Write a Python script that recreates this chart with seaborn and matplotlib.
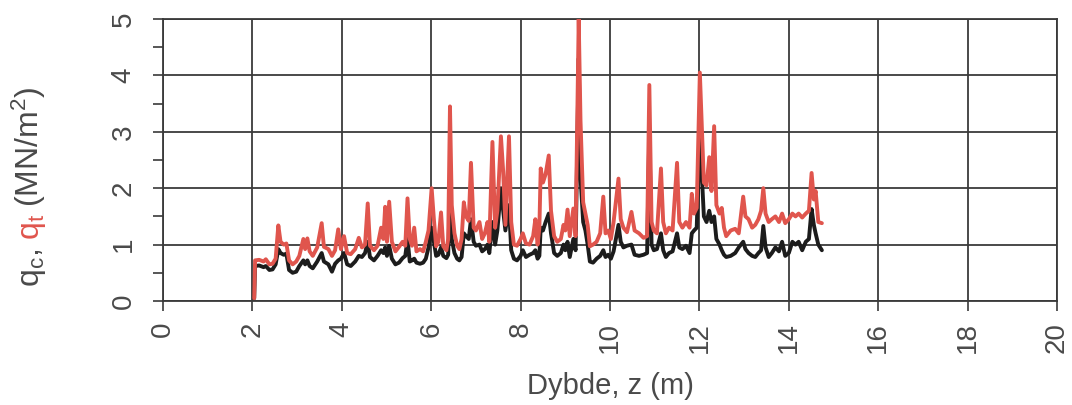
import matplotlib
matplotlib.use("Agg")
import matplotlib.pyplot as plt
import numpy as np
import pandas as pd
import seaborn as sns

# CPT sounding: depth (m), corrected cone resistance q_t and measured q_c (MN/m^2)
depth = [
    2.04, 2.06, 2.15, 2.25, 2.30, 2.38, 2.45, 2.52, 2.58, 2.63, 2.70, 2.76, 2.82, 2.90,
    2.98, 3.05, 3.14, 3.18, 3.23, 3.28, 3.35, 3.45, 3.55, 3.60, 3.70, 3.78, 3.85, 3.92,
    3.98, 4.05, 4.12, 4.20, 4.30, 4.38, 4.45, 4.52, 4.58, 4.63, 4.72, 4.80, 4.88, 4.93,
    4.97, 5.01, 5.06, 5.12, 5.20, 5.28, 5.36, 5.42, 5.47, 5.52, 5.57, 5.62, 5.67, 5.75,
    5.82, 5.88, 5.94, 6.01, 6.06, 6.11, 6.16, 6.22, 6.27, 6.34, 6.38, 6.42, 6.46, 6.52,
    6.58, 6.63, 6.68, 6.73, 6.78, 6.84, 6.89, 6.95, 7.00, 7.08, 7.14, 7.20, 7.26, 7.30,
    7.37, 7.43, 7.48, 7.56, 7.61, 7.66, 7.74, 7.79, 7.85, 7.92, 8.00, 8.05, 8.12, 8.20,
    8.28, 8.33, 8.38, 8.42, 8.45, 8.50, 8.56, 8.63, 8.68, 8.75, 8.82, 8.90, 8.96, 9.00,
    9.05, 9.10, 9.18, 9.23, 9.30, 9.34, 9.40, 9.45, 9.50, 9.55, 9.62, 9.70, 9.78, 9.85,
    9.90, 9.96, 10.02, 10.08, 10.19, 10.24, 10.30, 10.38, 10.48, 10.55, 10.65, 10.75,
    10.83, 10.88, 10.93, 10.98, 11.05, 11.14, 11.19, 11.25, 11.32, 11.40, 11.50, 11.55,
    11.62, 11.70, 11.78, 11.83, 11.88, 11.94, 12.01, 12.05, 12.10, 12.16, 12.22, 12.27,
    12.33, 12.38, 12.45, 12.50, 12.55, 12.60, 12.70, 12.80, 12.88, 12.98, 13.03, 13.10,
    13.18, 13.25, 13.32, 13.38, 13.43, 13.48, 13.55, 13.62, 13.70, 13.78, 13.85, 13.92,
    14.00, 14.08, 14.15, 14.22, 14.30, 14.38, 14.45, 14.51, 14.56, 14.60, 14.66, 14.74,
]

q_t = [
    0.05, 0.72, 0.73, 0.70, 0.74, 0.65, 0.66, 0.75, 1.34, 1.05, 1.00, 1.02, 0.72, 0.65,
    0.70, 0.80, 1.10, 0.92, 1.11, 0.88, 0.80, 0.95, 1.38, 0.96, 0.92, 0.80, 0.90, 1.27,
    0.92, 1.15, 0.85, 0.83, 0.92, 1.12, 0.95, 1.00, 1.73, 0.98, 0.90, 0.98, 1.30, 1.10,
    1.67, 1.05, 1.76, 1.05, 0.88, 0.96, 1.05, 0.98, 1.82, 1.10, 0.98, 1.30, 0.88, 0.92,
    0.88, 1.05, 1.25, 2.00, 1.45, 0.97, 1.05, 1.57, 0.97, 0.90, 1.10, 3.45, 1.70, 1.20,
    0.98, 0.92, 1.10, 1.75, 1.50, 1.42, 2.45, 1.30, 1.25, 1.40, 1.10, 1.20, 1.40, 1.05,
    2.82, 1.30, 1.60, 2.92, 2.30, 1.35, 2.92, 1.40, 1.00, 0.98, 1.10, 1.20, 1.02, 1.00,
    1.15, 1.45, 1.00, 1.30, 2.35, 2.10, 2.25, 2.58, 1.60, 1.15, 1.05, 1.10, 1.35, 1.25,
    1.62, 1.15, 1.64, 1.15, 5.00, 3.20, 1.75, 1.55, 1.35, 0.97, 1.00, 1.05, 1.20, 1.85,
    1.20, 1.25, 1.10, 1.40, 2.17, 1.45, 1.30, 1.22, 1.58, 1.25, 1.20, 1.12,
    1.15, 3.83, 1.40, 1.25, 1.20, 2.35, 1.40, 1.20, 1.30, 1.25, 2.45, 1.40,
    1.30, 1.40, 1.30, 1.90, 1.55, 1.65, 4.05, 3.20, 2.10, 2.05, 2.55, 1.95,
    3.10, 1.70, 1.55, 1.65, 1.30, 1.15, 1.25, 1.28, 1.20, 1.85, 1.50, 1.45,
    1.30, 1.35, 1.45, 1.60, 2.00, 1.55, 1.40, 1.45, 1.50, 1.40, 1.55, 1.38,
    1.45, 1.55, 1.50, 1.55, 1.48, 1.55, 1.60, 2.27, 1.80, 1.95, 1.40, 1.38,
]

q_c = [
    0.05, 0.62, 0.63, 0.60, 0.62, 0.55, 0.56, 0.65, 0.92, 0.85, 0.82, 0.84, 0.55, 0.50,
    0.52, 0.62, 0.72, 0.65, 0.72, 0.62, 0.58, 0.70, 0.85, 0.70, 0.65, 0.52, 0.66, 0.72,
    0.75, 0.85, 0.65, 0.62, 0.70, 0.80, 0.78, 0.85, 1.05, 0.78, 0.72, 0.80, 0.90, 0.85,
    0.95, 0.80, 0.98, 0.75, 0.65, 0.68, 0.76, 0.80, 1.10, 0.70, 0.72, 0.75, 0.68, 0.66,
    0.68, 0.75, 0.95, 1.30, 1.05, 0.80, 0.82, 0.95, 0.80, 0.76, 0.82, 1.95, 1.10, 0.85,
    0.75, 0.72, 0.78, 1.20, 1.15, 1.10, 1.45, 1.05, 0.98, 1.00, 0.88, 0.92, 1.00, 0.85,
    1.40, 1.00, 1.25, 2.00, 1.60, 1.25, 1.70, 0.90, 0.75, 0.72, 0.80, 0.90, 0.78, 0.82,
    0.85, 0.90, 0.75, 0.80, 1.30, 1.25, 1.40, 1.55, 1.20, 0.85, 0.80, 0.85, 1.00, 0.90,
    1.05, 0.78, 1.10, 0.90, 4.30, 2.20, 1.40, 1.25, 1.00, 0.70, 0.68, 0.75, 0.80, 0.90,
    0.78, 0.82, 0.75, 0.88, 1.35, 1.05, 0.95, 0.98, 1.00, 0.82, 0.80, 0.82,
    0.85, 3.00, 1.00, 0.90, 0.92, 1.20, 0.90, 0.78, 0.85, 0.88, 1.20, 0.95,
    0.92, 0.98, 0.85, 1.20, 1.25, 1.30, 3.00, 2.30, 1.50, 1.40, 1.60, 1.40,
    1.50, 1.10, 1.00, 0.90, 0.82, 0.78, 0.80, 0.85, 0.95, 1.05, 0.92, 0.85,
    0.80, 0.78, 0.85, 0.90, 1.33, 0.95, 0.78, 0.85, 0.95, 0.88, 1.05, 0.80,
    0.85, 1.05, 1.00, 1.05, 0.90, 1.05, 1.10, 1.63, 1.35, 1.20, 1.00, 0.90,
]

x_ticks = [0, 2, 4, 6, 8, 10, 12, 14, 16, 18, 20]
y_ticks = [0, 1, 2, 3, 4, 5]

RED = "#e0554d"
DARK = "#1c1c1c"
TEXT = "#4a4a4a"
GRID = "#3a3a3a"

sns.set_style("white")
plt.rcParams["font.family"] = ["Liberation Sans", "DejaVu Sans"]
plt.rcParams["mathtext.default"] = "regular"

df = pd.DataFrame({"z": depth, "qt": q_t, "qc": q_c})

fig = plt.figure(figsize=(10.72, 4.05), dpi=100)
ax = fig.add_axes([163 / 1072, 1 - 301 / 405, (1057 - 163) / 1072, (301 - 19) / 405])

sns.lineplot(data=df, x="z", y="qc", ax=ax, sort=False, color=DARK, lw=2.8, zorder=3)
sns.lineplot(data=df, x="z", y="qt", ax=ax, sort=False, color=RED, lw=2.8, zorder=4)

ax.set_xlim(0, 20)
ax.set_ylim(0, 5)
ax.set_xticks(x_ticks)
ax.set_yticks(y_ticks)
ax.set_yticks(np.arange(0.5, 5, 1.0), minor=True)
ax.set_xticklabels([str(v) for v in x_ticks], rotation=90)
ax.set_yticklabels([str(v) for v in y_ticks], rotation=90, va="center")

ax.grid(True, which="major", color=GRID, lw=1.3)
ax.set_axisbelow(True)
for s in ax.spines.values():
    s.set_color(GRID)
    s.set_linewidth(1.3)

ax.tick_params(axis="x", which="major", direction="out", length=7, width=1.2,
               color=GRID, labelsize=20, labelcolor=TEXT, pad=8, bottom=True)
ax.tick_params(axis="y", which="both", direction="out", length=7, width=1.2,
               color=GRID, labelsize=20, labelcolor=TEXT, pad=12, left=True)

ax.set_xlabel("Dybde, z (m)", fontsize=21, color=TEXT, labelpad=14)
ax.set_ylabel("")

# Multi-coloured y-axis label: rotated pieces stacked upward, with a word gap (px)
pieces = [
    (r"q$_{c}$,", TEXT, 9),
    (r"q$_{t}$", RED, 7),
    (r"(MN/m$^{2}$)", TEXT, 0),
]
fig.canvas.draw()
renderer = fig.canvas.get_renderer()
x_lab = 39 / 1072
y_px = 405 - 287
for txt, col, gap in pieces:
    t = fig.text(x_lab, y_px / 405, txt, rotation=90, rotation_mode="anchor",
                 ha="left", va="baseline", fontsize=23, color=col)
    bb = t.get_window_extent(renderer=renderer)
    y_px += bb.height + gap

fig.savefig("out.png", dpi=100)
